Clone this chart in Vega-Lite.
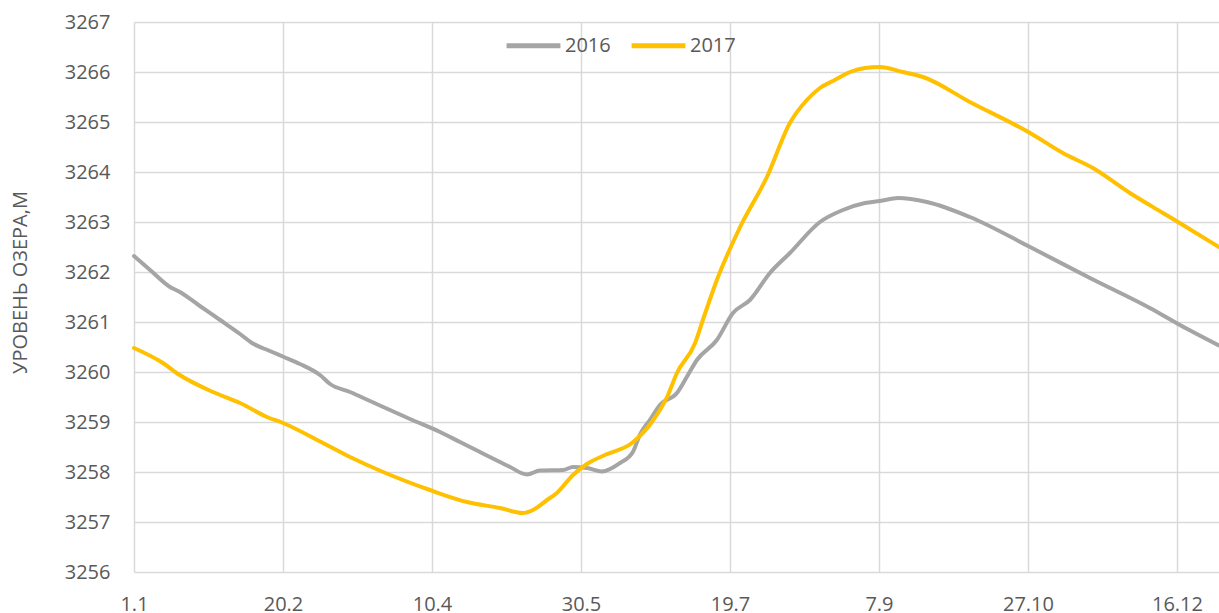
{
  "$schema": "https://vega.github.io/schema/vega-lite/v6.json",
  "width": 1085,
  "height": 550,
  "autosize": {"type": "none"},
  "padding": {"left": 134, "top": 22, "right": 0, "bottom": 41},
  "background": "white",
  "config": {
    "view": {"stroke": null},
    "font": "Open Sans",
    "axis": {"labelFont": "Open Sans", "titleFont": "Open Sans"},
    "legend": {"labelFont": "Open Sans"}
  },
  "datasets": {
    "levels": [
      {"day": 1, "level": 3262.32, "year": "2016"},
      {"day": 6.4, "level": 3262.04, "year": "2016"},
      {"day": 13.1, "level": 3261.7, "year": "2016"},
      {"day": 16.4, "level": 3261.6, "year": "2016"},
      {"day": 23.1, "level": 3261.32, "year": "2016"},
      {"day": 29.9, "level": 3261.04, "year": "2016"},
      {"day": 36.6, "level": 3260.76, "year": "2016"},
      {"day": 40.6, "level": 3260.58, "year": "2016"},
      {"day": 46.6, "level": 3260.42, "year": "2016"},
      {"day": 51.3, "level": 3260.3, "year": "2016"},
      {"day": 56.7, "level": 3260.16, "year": "2016"},
      {"day": 63.4, "level": 3259.94, "year": "2016"},
      {"day": 66.8, "level": 3259.76, "year": "2016"},
      {"day": 73.5, "level": 3259.6, "year": "2016"},
      {"day": 80.2, "level": 3259.42, "year": "2016"},
      {"day": 86.9, "level": 3259.24, "year": "2016"},
      {"day": 93.6, "level": 3259.06, "year": "2016"},
      {"day": 103.7, "level": 3258.8, "year": "2016"},
      {"day": 110.4, "level": 3258.6, "year": "2016"},
      {"day": 117.1, "level": 3258.4, "year": "2016"},
      {"day": 123.8, "level": 3258.2, "year": "2016"},
      {"day": 127.2, "level": 3258.1, "year": "2016"},
      {"day": 132.9, "level": 3257.95, "year": "2016"},
      {"day": 137.2, "level": 3258.03, "year": "2016"},
      {"day": 145, "level": 3258.04, "year": "2016"},
      {"day": 148.3, "level": 3258.1, "year": "2016"},
      {"day": 153, "level": 3258.08, "year": "2016"},
      {"day": 158, "level": 3258.01, "year": "2016"},
      {"day": 164.1, "level": 3258.18, "year": "2016"},
      {"day": 168.4, "level": 3258.4, "year": "2016"},
      {"day": 170.8, "level": 3258.75, "year": "2016"},
      {"day": 174.2, "level": 3259.05, "year": "2016"},
      {"day": 177.6, "level": 3259.35, "year": "2016"},
      {"day": 183.2, "level": 3259.58, "year": "2016"},
      {"day": 186.5, "level": 3259.9, "year": "2016"},
      {"day": 189.9, "level": 3260.24, "year": "2016"},
      {"day": 196.6, "level": 3260.64, "year": "2016"},
      {"day": 202, "level": 3261.18, "year": "2016"},
      {"day": 207.7, "level": 3261.44, "year": "2016"},
      {"day": 214.4, "level": 3261.98, "year": "2016"},
      {"day": 221.1, "level": 3262.38, "year": "2016"},
      {"day": 231.2, "level": 3263.0, "year": "2016"},
      {"day": 238.9, "level": 3263.24, "year": "2016"},
      {"day": 246.3, "level": 3263.38, "year": "2016"},
      {"day": 251.3, "level": 3263.42, "year": "2016"},
      {"day": 257.4, "level": 3263.48, "year": "2016"},
      {"day": 267.1, "level": 3263.4, "year": "2016"},
      {"day": 281.5, "level": 3263.1, "year": "2016"},
      {"day": 301.7, "level": 3262.5, "year": "2016"},
      {"day": 321.8, "level": 3261.88, "year": "2016"},
      {"day": 341.9, "level": 3261.28, "year": "2016"},
      {"day": 352, "level": 3260.94, "year": "2016"},
      {"day": 365.1, "level": 3260.53, "year": "2016"},
      {"day": 1, "level": 3260.48, "year": "2017"},
      {"day": 10.7, "level": 3260.18, "year": "2017"},
      {"day": 15.8, "level": 3259.96, "year": "2017"},
      {"day": 27.5, "level": 3259.6, "year": "2017"},
      {"day": 36.6, "level": 3259.38, "year": "2017"},
      {"day": 45.6, "level": 3259.1, "year": "2017"},
      {"day": 51, "level": 3258.98, "year": "2017"},
      {"day": 64.4, "level": 3258.58, "year": "2017"},
      {"day": 73.5, "level": 3258.3, "year": "2017"},
      {"day": 84.6, "level": 3258.0, "year": "2017"},
      {"day": 100.3, "level": 3257.64, "year": "2017"},
      {"day": 112.7, "level": 3257.4, "year": "2017"},
      {"day": 123.8, "level": 3257.28, "year": "2017"},
      {"day": 131.5, "level": 3257.18, "year": "2017"},
      {"day": 134.9, "level": 3257.24, "year": "2017"},
      {"day": 139.6, "level": 3257.44, "year": "2017"},
      {"day": 142.9, "level": 3257.58, "year": "2017"},
      {"day": 148.3, "level": 3257.94, "year": "2017"},
      {"day": 153, "level": 3258.16, "year": "2017"},
      {"day": 159, "level": 3258.34, "year": "2017"},
      {"day": 168.1, "level": 3258.58, "year": "2017"},
      {"day": 174.8, "level": 3259.0, "year": "2017"},
      {"day": 179.9, "level": 3259.5, "year": "2017"},
      {"day": 183.2, "level": 3259.98, "year": "2017"},
      {"day": 189.3, "level": 3260.58, "year": "2017"},
      {"day": 191.9, "level": 3261.04, "year": "2017"},
      {"day": 196.6, "level": 3261.84, "year": "2017"},
      {"day": 204.4, "level": 3262.9, "year": "2017"},
      {"day": 213.4, "level": 3263.9, "year": "2017"},
      {"day": 221.1, "level": 3264.98, "year": "2017"},
      {"day": 226.8, "level": 3265.44, "year": "2017"},
      {"day": 231.2, "level": 3265.68, "year": "2017"},
      {"day": 236.2, "level": 3265.84, "year": "2017"},
      {"day": 241.3, "level": 3266.0, "year": "2017"},
      {"day": 246.3, "level": 3266.08, "year": "2017"},
      {"day": 251.3, "level": 3266.1, "year": "2017"},
      {"day": 259, "level": 3266.0, "year": "2017"},
      {"day": 265.8, "level": 3265.9, "year": "2017"},
      {"day": 281.5, "level": 3265.4, "year": "2017"},
      {"day": 301.7, "level": 3264.78, "year": "2017"},
      {"day": 312.7, "level": 3264.38, "year": "2017"},
      {"day": 322.8, "level": 3264.08, "year": "2017"},
      {"day": 335.2, "level": 3263.58, "year": "2017"},
      {"day": 346.3, "level": 3263.18, "year": "2017"},
      {"day": 353, "level": 3262.94, "year": "2017"},
      {"day": 365.1, "level": 3262.5, "year": "2017"}
    ]
  },
  "data": {"name": "levels"},
  "mark": {"type": "line", "strokeWidth": 4, "interpolate": "monotone", "strokeCap": "round", "strokeJoin": "round"},
  "encoding": {
    "x": {
      "field": "day",
      "type": "quantitative",
      "scale": {"domain": [1, 365.1], "nice": false, "zero": false},
      "axis": {
        "values": [1, 51, 101, 151, 201, 251, 301, 351],
        "labelExpr": "{'1':'1.1','51':'20.2','101':'10.4','151':'30.5','201':'19.7','251':'7.9','301':'27.10','351':'16.12'}[datum.value + '']",
        "title": null,
        "domain": false,
        "ticks": false,
        "tickSize": 0,
        "grid": true,
        "gridColor": "#d9d9d9",
        "gridWidth": 1.5,
        "labelFontSize": 20,
        "labelColor": "#595959",
        "labelPadding": 22,
        "labelFlush": false,
        "labelOverlap": false
      }
    },
    "y": {
      "field": "level",
      "type": "quantitative",
      "scale": {"domain": [3256, 3267], "nice": false, "zero": false},
      "axis": {
        "values": [3256, 3257, 3258, 3259, 3260, 3261, 3262, 3263, 3264, 3265, 3266, 3267],
        "format": "d",
        "title": "УРОВЕНЬ ОЗЕРА,М",
        "titleFontSize": 20,
        "titleFontWeight": "normal",
        "titleColor": "#595959",
        "titleX": -104,
        "titleY": 260,
        "domain": false,
        "ticks": false,
        "tickSize": 0,
        "grid": true,
        "gridColor": "#d9d9d9",
        "gridWidth": 1.5,
        "labelFontSize": 20,
        "labelColor": "#595959",
        "labelPadding": 24,
        "labelOverlap": false
      }
    },
    "color": {
      "field": "year",
      "type": "nominal",
      "scale": {"domain": ["2016", "2017"], "range": ["#A5A5A5", "#FFC000"]},
      "legend": {
        "title": null,
        "orient": "none",
        "direction": "horizontal",
        "legendX": 370,
        "legendY": -6,
        "symbolType": "stroke",
        "symbolSize": 2900,
        "symbolStrokeWidth": 5,
        "labelFontSize": 20,
        "labelColor": "#595959",
        "labelOffset": 2,
        "columnPadding": 10
      }
    }
  }
}
